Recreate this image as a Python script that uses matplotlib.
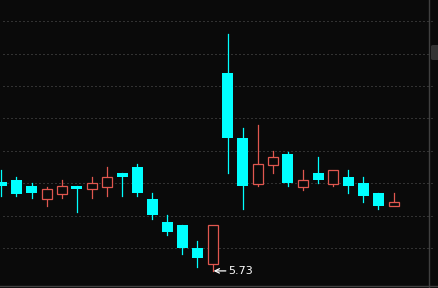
import matplotlib
matplotlib.use("Agg")
import matplotlib.pyplot as plt
from matplotlib.patches import Rectangle, FancyBboxPatch
from matplotlib.lines import Line2D

# daily OHLC
opens = [6.003, 6.010, 5.992, 5.951, 5.968, 5.992, 5.982, 5.990, 6.033, 6.051,
         5.952, 5.882, 5.872, 5.801, 5.750, 6.340, 6.140, 5.999, 6.057, 6.090,
         5.990, 6.032, 5.999, 6.019, 6.002, 5.971, 5.929]
highs = [6.041, 6.020, 6.000, 5.990, 6.010, 5.992, 6.019, 6.051, 6.033, 6.060,
         5.971, 5.903, 5.872, 5.822, 5.872, 6.461, 6.171, 6.180, 6.100, 6.098,
         6.041, 6.082, 6.041, 6.041, 6.019, 5.971, 5.971]
lows = [5.962, 5.962, 5.954, 5.931, 5.954, 5.913, 5.954, 5.962, 5.962, 5.962,
        5.890, 5.841, 5.782, 5.743, 5.730, 6.033, 5.922, 5.993, 6.033, 5.993,
        5.981, 6.002, 5.993, 5.971, 5.943, 5.922, 5.929]
closes = [5.992, 5.967, 5.970, 5.983, 5.991, 5.983, 6.001, 6.020, 6.020, 5.970,
          5.903, 5.850, 5.801, 5.770, 5.872, 6.141, 5.993, 6.060, 6.081, 6.002,
          6.010, 6.011, 6.041, 5.993, 5.961, 5.931, 5.943]
grid_prices = [5.8, 5.9, 6.0, 6.1, 6.2, 6.3, 6.4, 6.5]
low_label = "5.73"
low_idx = 14

BG = "#0a0a0a"
UP = "#e0574f"
DOWN = "#00ffff"

fig = plt.figure(figsize=(4.39, 2.88), dpi=100, facecolor=BG)
ax = fig.add_axes([0, 0, 1, 1])
ax.set_facecolor(BG)
for s in ax.spines.values():
    s.set_visible(False)
ax.set_xticks([])
ax.set_yticks([])
ax.set_xlim(-0.094, 29.017)
ax.set_ylim(5.6773, 6.5653)

# dotted price grid
for p in grid_prices:
    ax.axhline(p, xmin=3 / 439, xmax=432 / 439, color="#5a5a5a",
               lw=0.72, dashes=(1, 3), zorder=1)

w = 0.729
for i, (o, h, l, c) in enumerate(zip(opens, highs, lows, closes)):
    top, bot = max(o, c), min(o, c)
    if c >= o:
        ax.plot([i, i], [top, h], color=UP, lw=0.9, zorder=2)
        ax.plot([i, i], [l, bot], color=UP, lw=0.9, zorder=2)
        ax.add_patch(Rectangle((i - w / 2 + 0.033, bot), w - 0.066, max(top - bot, 0.002),
                               facecolor=BG, edgecolor=UP, lw=0.9, zorder=3))
    else:
        ax.plot([i, i], [l, h], color=DOWN, lw=0.9, zorder=2)
        ax.add_patch(Rectangle((i - w / 2, bot), w, max(top - bot, 0.004),
                               facecolor=DOWN, edgecolor="none", zorder=3))

# lowest price marker
ax.annotate(low_label, xy=(low_idx + 0.07, lows[low_idx]), xytext=(15, 0),
            textcoords="offset pixels", color="white", fontsize=8,
            ha="left", va="center",
            arrowprops=dict(arrowstyle="->", color="white", lw=0.9,
                            shrinkA=0, shrinkB=0))

# frame lines and little scroll tab on the right
fig.add_artist(Line2D([429 / 439, 429 / 439], [0, 1], color="#404040", lw=1.0))
fig.add_artist(Line2D([0, 1], [2 / 288, 2 / 288], color="#404040", lw=1.0))
fig.add_artist(FancyBboxPatch((431 / 439, 1 - 60 / 288), 10 / 439, 15 / 288,
                              boxstyle="round,pad=0,rounding_size=0.005",
                              facecolor="#333333", edgecolor="none"))

fig.savefig("out.png", dpi=100, facecolor=BG)
